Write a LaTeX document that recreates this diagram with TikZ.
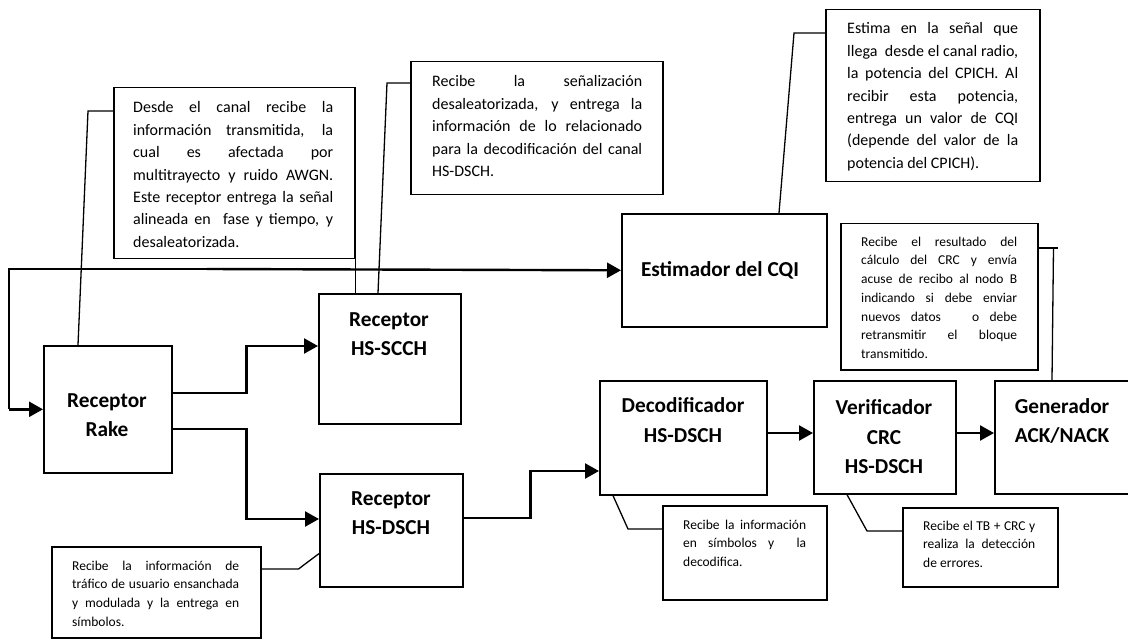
\documentclass[tikz,border=0pt]{standalone}
\usepackage{fontspec}
\setmainfont{Carlito}
\usetikzlibrary{arrows.meta,calc}
\newcommand{\jline}[2]{\makebox[#1][s]{#2}}
\begin{document}
\begin{tikzpicture}[x=1pt,y=-1pt,
  blk/.style={draw,line width=1.6pt,inner sep=0pt,anchor=north west},
  callout/.style={draw,line width=1.5pt,inner sep=0pt,anchor=north west},
  lbl/.style={align=center,font=\bfseries\fontsize{21.3}{29.5}\selectfont,inner sep=0pt},
  bigtxt/.style={anchor=base west,align=left,inner sep=0pt,font=\fontsize{16}{22.4}\selectfont},
  smalltxt/.style={anchor=base west,align=left,inner sep=0pt,font=\fontsize{13.5}{18.8}\selectfont},
  flow/.style={line width=2.4pt,-{Triangle[length=14pt,width=15pt]}},
  thinflow/.style={line width=1.4pt},
  lead/.style={line width=1.3pt}]
\useasboundingbox (0,0) rectangle (1128,639);

% main blocks
\node[blk,minimum width=128pt,minimum height=127pt] (Rake) at (43,345) {};
\node[blk,minimum width=142pt,minimum height=130pt] (SCCH) at (318,293) {};
\node[blk,minimum width=143pt,minimum height=113pt] (DSCHr) at (319,473) {};
\node[blk,minimum width=205pt,minimum height=113pt] (Est) at (621,213) {};
\node[blk,minimum width=167pt,minimum height=114pt] (Decod) at (599,380) {};
\node[blk,minimum width=142pt,minimum height=113pt] (Verif) at (813,380) {};
\node[blk,minimum width=140pt,minimum height=113pt] (Gen) at (994,380) {};

\node[lbl] (tRake) at (107,415) {Receptor\\Rake};
\node[lbl] (tSCCH) at (389,334) {Receptor\\HS-SCCH};
\node[lbl] (tDSCHr) at (391,513) {Receptor\\HS-DSCH};
\node[lbl] (tEst) at (720,270) {Estimador del CQI};
\node[lbl] (tDecod) at (683,420) {Decodificador\\HS-DSCH};
\node[lbl] (tVerif) at (884,437) {Verificador\\CRC\\HS-DSCH};
\node[lbl] (tGen) at (1062,421) {Generador\\ACK/NACK};

% callouts
\node[callout,minimum width=241pt,minimum height=171pt] (C1) at (113,87) {};
\node[callout,minimum width=252pt,minimum height=133pt] (C2) at (410,61) {};
\node[callout,minimum width=214pt,minimum height=172pt] (C3) at (825,9) {};
\node[callout,minimum width=197pt,minimum height=146pt] (C4) at (840,223) {};
\node[callout,minimum width=209pt,minimum height=91pt] (C5) at (51,546) {};
\node[callout,minimum width=164pt,minimum height=94pt] (C6) at (662,505) {};
\node[callout,minimum width=155pt,minimum height=79pt] (C7) at (902,507) {};

% (base anchor = baseline of the last line)
\node[bigtxt] (tC1) at (133,247.4) {\jline{200pt}{Desde el canal recibe la}\\
\jline{200pt}{información transmitida, la}\\
\jline{200pt}{cual es afectada por}\\
\jline{200pt}{multitrayecto y ruido AWGN.}\\
\jline{200pt}{Este receptor entrega la señal}\\
\jline{200pt}{alineada en \ fase y tiempo, y}\\
desaleatorizada.};

\node[bigtxt] (tC2) at (432,176.6) {\jline{210pt}{Recibe la señalización}\\
\jline{210pt}{desaleatorizada, y entrega la}\\
\jline{210pt}{información de lo relacionado}\\
\jline{210pt}{para la decodificación del canal}\\
HS-DSCH.};

\node[bigtxt] (tC3) at (847,168.4) {\jline{171pt}{Estima en la señal que}\\
\jline{171pt}{llega \ desde el canal radio,}\\
\jline{171pt}{la potencia del CPICH. Al}\\
\jline{171pt}{recibir esta potencia,}\\
\jline{171pt}{entrega un valor de CQI}\\
\jline{171pt}{(depende del valor de la}\\
potencia del CPICH).};

\node[smalltxt] (tC4) at (861,358.8) {\jline{156pt}{Recibe el resultado del}\\
\jline{156pt}{cálculo del CRC y envía}\\
\jline{156pt}{acuse de recibo al nodo B}\\
\jline{156pt}{indicando si debe enviar}\\
\jline{156pt}{nuevos datos \ \ o debe}\\
\jline{156pt}{retransmitir el bloque}\\
transmitido.};

\node[smalltxt] (tC5) at (72,626.4) {\jline{167pt}{Recibe la información de}\\
\jline{167pt}{tráfico de usuario ensanchada}\\
\jline{167pt}{y modulada y la entrega en}\\
símbolos.};

\node[smalltxt] (tC6) at (683,566.6) {\jline{123pt}{Recibe la información}\\
\jline{123pt}{en símbolos y \ la}\\
decodifica.};

\node[smalltxt] (tC7) at (923,567.6) {\jline{112pt}{Recibe el TB + CRC y}\\
\jline{112pt}{realiza la detección}\\
de errores.};

% callout leaders
\draw[lead] ($(C1.north west)+(0,24)$) -- ++(-25,0) -- ($(Rake.north west)+(35,0)$);
\draw[lead] (C1.south east) -- (C1.south east |- SCCH.north);
\draw[lead] ($(C2.north west)+(0,22)$) -- ++(-23,0) -- ($(SCCH.north west)+(60,0)$);
\draw[lead] ($(C3.north west)+(0,24)$) -- ++(-31,0) -- ($(Est.north west)+(158,0)$);
\draw[lead] ($(C4.north east)+(0,25)$) -- ++(19,0);
\draw[lead] ($(C4.north east)+(15,25)$) -- ($(Gen.north west)+(58,0)$);
\draw[lead] ($(C5.north east)+(0,23)$) -- ++(37,0) -- ($(DSCHr.south west)+(0,-34)$);
\draw[lead] ($(Decod.south west)+(14,0)$) -- ($(C6.north west)+(-34,24)$) -- ($(C6.north west)+(0,24)$);
\draw[lead] ($(Verif.south west)+(34,0)$) -- ($(C7.north west)+(-35,24)$) -- ($(C7.north west)+(0,24)$);

% signal flow
\coordinate (mid) at (207,269);
\coordinate (split) at (9,269);
\draw[flow] (mid) -- (Est.west);
\draw[thinflow] (mid) -- (split) -- (split |- Rake.west);
\draw[flow] (split |- Rake.west) -- (Rake.west);
\draw[flow] ($(Rake.north east)+(0,48)$) -- ++(74,0) |- ($(SCCH.north west)+(0,53)$);
\draw[flow] ($(Rake.north east)+(0,84)$) -- ++(74,0) |- ($(DSCHr.north west)+(0,46)$);
\draw[flow] ($(DSCHr.north east)+(0,45)$) -- ++(67,0) |- ($(Decod.north west)+(0,91)$);
\draw[flow] ($(Decod.north east)+(0,53)$) -- ($(Verif.north west)+(0,53)$);
\draw[flow] ($(Verif.north east)+(0,53)$) -- ($(Gen.north west)+(0,53)$);
\end{tikzpicture}
\end{document}
